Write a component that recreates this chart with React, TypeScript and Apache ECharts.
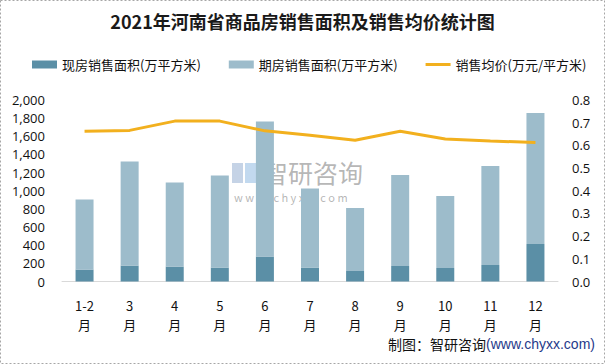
import React, { useEffect, useRef } from "react";
import * as echarts from "echarts";

const categories = ["1-2\n月", "3\n月", "4\n月", "5\n月", "6\n月", "7\n月", "8\n月", "9\n月", "10\n月", "11\n月", "12\n月"];
const spotArea = [132, 176, 165, 154, 275, 154, 116, 171, 149, 182, 413];
const futureArea = [771, 1145, 925, 1013, 1487, 870, 694, 1003, 793, 1091, 1444];
const avgPrice = [0.662, 0.666, 0.707, 0.707, 0.664, 0.645, 0.623, 0.662, 0.628, 0.619, 0.613];
const seriesNames = ["现房销售面积(万平方米)", "期房销售面积(万平方米)", "销售均价(万元/平方米)"];
const titleText = "2021年河南省商品房销售面积及销售均价统计图";

export default function App() {
  const ref = useRef<HTMLDivElement>(null);
  useEffect(() => {
    document.body.style.margin = "0";
    const chart = echarts.init(ref.current!, null, { renderer: "svg" });
    const font = "'Noto Sans CJK SC', 'Noto Sans', sans-serif";
    chart.setOption({
      animation: false,
      backgroundColor: "#ffffff",
      textStyle: { fontFamily: font },
      title: {
        text: titleText,
        left: "center",
        top: 7,
        textStyle: { fontSize: 18, fontWeight: "bold", color: "#1a1a1a", fontFamily: font },
      },
      legend: {
        top: 53,
        left: 27,
        itemWidth: 25,
        itemHeight: 8,
        itemGap: 28,
        textStyle: { fontSize: 13, color: "#111", fontFamily: font },
        data: [
          { name: seriesNames[0], icon: "rect" },
          { name: seriesNames[1], icon: "rect" },
          { name: seriesNames[2], icon: "path://M0,0 L25,0 L25,3 L0,3 Z" },
        ],
      },
      grid: { left: 62, right: 47, top: 100, bottom: 82.5 },
      xAxis: {
        type: "category",
        data: categories,
        axisLine: { lineStyle: { color: "#d9d9d9", width: 1 } },
        axisTick: { show: false },
        axisLabel: { fontSize: 13, color: "#111", lineHeight: 19, margin: 14, interval: 0, fontFamily: font },
      },
      yAxis: [
        {
          type: "value",
          min: 0,
          max: 2000,
          interval: 200,
          splitLine: { show: false },
          axisLine: { show: false },
          axisTick: { show: false },
          axisLabel: {
            fontSize: 13,
            color: "#111",
            margin: 17,
            fontFamily: "'Open Sans', sans-serif",
            formatter: (v: number) => v.toLocaleString("en-US"),
          },
        },
        {
          type: "value",
          min: 0,
          max: 0.8,
          interval: 0.1,
          splitLine: { show: false },
          axisLine: { show: false },
          axisTick: { show: false },
          axisLabel: {
            fontSize: 13,
            color: "#111",
            margin: 14,
            fontFamily: "'Open Sans', sans-serif",
            formatter: (v: number) => v.toFixed(1),
          },
        },
      ],
      series: [
        {
          name: seriesNames[0],
          type: "bar",
          stack: "area",
          barWidth: 18,
          data: spotArea,
          itemStyle: { color: "#5b8fa6" },
        },
        {
          name: seriesNames[1],
          type: "bar",
          stack: "area",
          barWidth: 18,
          data: futureArea,
          itemStyle: { color: "#9dbccb" },
        },
        {
          name: seriesNames[2],
          type: "line",
          yAxisIndex: 1,
          data: avgPrice,
          symbol: "none",
          lineStyle: { color: "#f2b01e", width: 3 },
          itemStyle: { color: "#f2b01e" },
        },
      ],
      graphic: [
        {
          type: "rect",
          shape: { x: 0.5, y: 0.5, width: 604, height: 363 },
          style: { fill: "none", stroke: "#a6a6a6", lineWidth: 1, lineDash: [2, 2] },
          silent: true,
        },
        {
          type: "group",
          left: 232,
          top: 159,
          silent: true,
          children: [
            { type: "rect", shape: { x: 0, y: 4, width: 11, height: 20 }, style: { fill: "rgba(150,175,210,0.55)" } },
            { type: "rect", shape: { x: 13, y: 4, width: 13, height: 20 }, style: { fill: "rgba(120,170,220,0.45)" } },
            {
              type: "text",
              x: 31,
              y: 0,
              style: { text: "智研咨询", fontSize: 25, lineHeight: 26, fill: "rgba(120,120,120,0.55)", fontFamily: font, verticalAlign: "top" },
            },
            {
              type: "text",
              x: 2,
              y: 32,
              style: { text: "w w w . c h y x x . c o m", fontSize: 11, lineHeight: 11, fill: "rgba(120,120,120,0.55)", fontFamily: font, verticalAlign: "top" },
            },
          ],
        },
        {
          type: "text",
          right: 10,
          top: 337,
          style: {
            text: "{a|制图：智研咨询}{b|(www.chyxx.com)}",
            rich: {
              a: { fontSize: 14, fill: "#111", fontFamily: font },
              b: { fontSize: 14, fill: "#1f3a8a", fontFamily: "'Liberation Sans', sans-serif" },
            },
          },
        },
      ],
    });
    return () => chart.dispose();
  }, []);
  return <div ref={ref} style={{ width: 605, height: 364, position: "absolute", left: 0, top: 0 }} />;
}
